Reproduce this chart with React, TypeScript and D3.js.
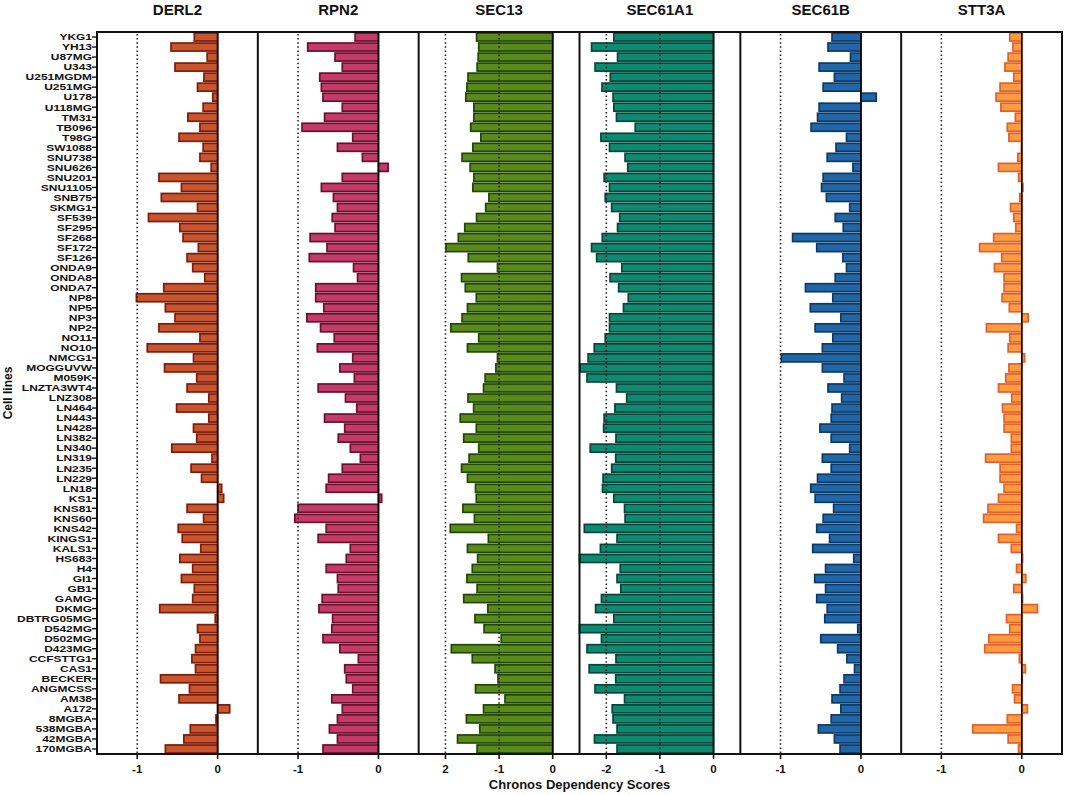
import React from 'react';
import * as d3 from 'd3';

const cellLines = [
  "YKG1","YH13","U87MG","U343","U251MGDM","U251MG","U178","U118MG","TM31","TB096",
  "T98G","SW1088","SNU738","SNU626","SNU201","SNU1105","SNB75","SKMG1","SF539","SF295",
  "SF268","SF172","SF126","ONDA9","ONDA8","ONDA7","NP8","NP5","NP3","NP2",
  "NO11","NO10","NMCG1","MOGGUVW","M059K","LNZTA3WT4","LNZ308","LN464","LN443","LN428",
  "LN382","LN340","LN319","LN235","LN229","LN18","KS1","KNS81","KNS60","KNS42",
  "KINGS1","KALS1","HS683","H4","GI1","GB1","GAMG","DKMG","DBTRG05MG","D542MG",
  "D502MG","D423MG","CCFSTTG1","CAS1","BECKER","ANGMCSS","AM38","A172","8MGBA","538MGBA",
  "42MGBA","170MGBA"
];

const derl2 = [
  -0.29,-0.58,-0.13,-0.53,-0.17,-0.25,-0.06,-0.18,-0.37,-0.22,
  -0.48,-0.18,-0.22,-0.08,-0.73,-0.45,-0.70,-0.25,-0.86,-0.47,
  -0.43,-0.24,-0.38,-0.31,-0.16,-0.67,-1.01,-0.65,-0.53,-0.73,
  -0.22,-0.875,-0.30,-0.66,-0.26,-0.38,-0.11,-0.51,-0.11,-0.30,
  -0.26,-0.57,-0.07,-0.33,-0.20,0.05,0.075,-0.38,-0.175,-0.49,
  -0.44,-0.21,-0.47,-0.31,-0.45,-0.29,-0.31,-0.72,-0.03,-0.25,
  -0.22,-0.275,-0.32,-0.275,-0.71,-0.35,-0.48,0.15,-0.02,-0.34,
  -0.42,-0.65
];

const rpn2 = [
  -0.29,-0.88,-0.54,-0.45,-0.73,-0.71,-0.69,-0.45,-0.67,-0.95,
  -0.32,-0.51,-0.20,0.12,-0.45,-0.71,-0.56,-0.51,-0.575,-0.54,
  -0.85,-0.64,-0.86,-0.31,-0.26,-0.78,-0.78,-0.68,-0.89,-0.72,
  -0.55,-0.76,-0.32,-0.48,-0.30,-0.75,-0.41,-0.27,-0.67,-0.42,
  -0.50,-0.35,-0.225,-0.45,-0.62,-0.65,0.04,-1.00,-1.04,-0.65,
  -0.75,-0.35,-0.40,-0.65,-0.51,-0.50,-0.70,-0.74,-0.57,-0.58,
  -0.69,-0.48,-0.25,-0.42,-0.40,-0.32,-0.58,-0.45,-0.51,-0.61,
  -0.51,-0.69
];

const sec13 = [
  -1.42,-1.38,-1.39,-1.41,-1.58,-1.60,-1.62,-1.47,-1.47,-1.53,
  -1.34,-1.49,-1.69,-1.54,-1.47,-1.49,-1.19,-1.25,-1.42,-1.64,
  -1.76,-1.99,-1.575,-1.03,-1.70,-1.63,-1.425,-1.59,-1.69,-1.90,
  -1.38,-1.59,-1.03,-1.06,-1.26,-1.29,-1.58,-1.475,-1.725,-1.425,
  -1.66,-1.38,-1.56,-1.70,-1.59,-1.44,-1.425,-1.675,-1.46,-1.91,
  -1.20,-1.59,-1.40,-1.50,-1.60,-1.41,-1.66,-1.21,-1.45,-1.28,
  -0.96,-1.89,-1.50,-1.075,-1.02,-1.44,-0.89,-1.29,-1.61,-1.36,
  -1.775,-1.41
];

const sec61a1 = [
  -1.86,-2.275,-1.79,-2.21,-1.925,-2.08,-1.875,-1.86,-1.81,-1.46,
  -2.10,-1.94,-1.65,-1.60,-2.04,-1.94,-2.02,-1.90,-1.75,-1.79,
  -2.075,-2.275,-2.18,-1.71,-1.93,-1.77,-1.59,-1.68,-1.94,-1.94,
  -2.02,-2.225,-2.34,-2.49,-2.36,-1.81,-1.62,-1.84,-2.04,-2.05,
  -1.82,-2.30,-1.825,-1.90,-2.06,-2.07,-1.86,-1.66,-1.65,-2.41,
  -1.80,-2.11,-2.55,-1.74,-1.80,-1.73,-2.09,-2.20,-1.86,-2.55,
  -2.09,-2.36,-1.82,-2.32,-1.825,-2.21,-1.66,-1.89,-1.875,-1.80,
  -2.22,-1.80
];

const sec61b = [
  -0.36,-0.41,-0.13,-0.52,-0.33,-0.47,0.19,-0.52,-0.54,-0.62,
  -0.18,-0.31,-0.42,-0.10,-0.47,-0.49,-0.43,-0.14,-0.32,-0.22,
  -0.85,-0.55,-0.225,-0.18,-0.32,-0.69,-0.35,-0.63,-0.25,-0.57,
  -0.35,-0.48,-0.99,-0.48,-0.21,-0.41,-0.24,-0.36,-0.37,-0.51,
  -0.37,-0.14,-0.48,-0.37,-0.54,-0.625,-0.57,-0.34,-0.47,-0.55,
  -0.39,-0.60,-0.09,-0.44,-0.575,-0.44,-0.55,-0.42,-0.45,-0.04,
  -0.50,-0.29,-0.175,-0.08,-0.21,-0.26,-0.36,-0.25,-0.37,-0.53,
  -0.33,-0.26
];

const stt3a = [
  -0.15,-0.11,-0.17,-0.21,-0.10,-0.27,-0.32,-0.26,-0.08,-0.18,
  -0.16,-0.005,-0.05,-0.29,-0.04,0.015,-0.025,-0.14,-0.10,-0.075,
  -0.35,-0.525,-0.25,-0.34,-0.22,-0.22,-0.245,-0.155,0.08,-0.44,
  -0.15,-0.17,0.035,-0.16,-0.20,-0.29,-0.125,-0.24,-0.22,-0.22,
  -0.13,-0.13,-0.45,-0.27,-0.27,-0.22,-0.29,-0.42,-0.475,-0.065,
  -0.29,-0.13,0.01,-0.065,0.05,-0.10,0.01,0.195,-0.19,-0.15,
  -0.41,-0.46,-0.03,0.045,0,-0.115,-0.09,0.07,-0.18,-0.61,
  -0.17,-0.04
];

const genes = ["DERL2", "RPN2", "SEC13", "SEC61A1", "SEC61B", "STT3A"];
const seriesValues = [derl2, rpn2, sec13, sec61a1, sec61b, stt3a];
const domainMins = [-1.5, -1.5, -2.5, -2.5, -1.5, -1.5];
const tickValues = [[-1, 0], [-1, 0], [-2, -1, 0], [-2, -1, 0], [-1, 0], [-1, 0]];
const tickLabels = [["-1", "0"], ["-1", "0"], ["2", "-1", "0"], ["-2", "-1", "0"], ["-1", "0"], ["-1", "0"]];
const refLines = [[-1], [-1], [-2, -1], [-2, -1], [-1], [-1]];

const fills = ["#c7552d", "#c33b68", "#5b8a1b", "#0e8a70", "#2166a6", "#fd9b41"];
const strokes = ["#7e1c0a", "#6b0f2d", "#1f4806", "#06463a", "#0c3a66", "#e0602c"];

const W = 1065;
const H = 795;
const plotLeft = 97;
const plotRight = 1062;
const plotTop = 32;
const plotBottom = 754;
const FONT = "Arial, 'Liberation Sans', Helvetica, sans-serif";

export default function App() {
  const pw = (plotRight - plotLeft) / genes.length;
  const y = d3.scaleBand<string>().domain(cellLines).range([plotTop, plotBottom]).paddingInner(0.2).paddingOuter(0.1);
  const bh = y.bandwidth();

  const panels = genes.map((g, i) => {
    const x0 = plotLeft + i * pw;
    const x = d3.scaleLinear().domain([domainMins[i], 0.5]).range([x0, x0 + pw]).clamp(true);
    return { g, i, x0, x };
  });

  return (
    <svg width={W} height={H} style={{ position: 'absolute', left: 0, top: 0, background: '#fff' }} fontFamily={FONT}>
      <rect x={0} y={0} width={W} height={H} fill="#fff" />
      {panels.map(({ g, i, x0, x }) => (
        <g key={g}>
          <text x={x0 + pw / 2} y={15} textAnchor="middle" fontSize={15} fontWeight="bold" fill="#111">{g}</text>
          {seriesValues[i].map((v, j) => {
            const a = x(Math.min(0, v));
            const b = x(Math.max(0, v));
            return (
              <rect key={j} x={a} y={y(cellLines[j])} width={Math.max(0.5, b - a)} height={bh}
                fill={fills[i]} stroke={strokes[i]} strokeWidth={1.7} />
            );
          })}
          {refLines[i].map((r) => (
            <line key={r} x1={x(r)} x2={x(r)} y1={plotTop + 2} y2={plotBottom} stroke="#222" strokeWidth={1.6} strokeDasharray="1.5 2.6" />
          ))}
          <line x1={x(0)} x2={x(0)} y1={plotTop} y2={plotBottom} stroke="#000" strokeWidth={1.6} />
          <line x1={x0} x2={x0} y1={plotTop} y2={plotBottom} stroke="#111" strokeWidth={2} />
          {tickValues[i].map((t, k) => (
            <g key={t}>
              <line x1={x(t)} x2={x(t)} y1={plotBottom} y2={plotBottom + 5} stroke="#111" strokeWidth={1.6} />
              <text x={x(t)} y={773} textAnchor="middle" fontSize={11.5} fontWeight="bold" fill="#111">{tickLabels[i][k]}</text>
            </g>
          ))}
        </g>
      ))}
      <line x1={plotRight} x2={plotRight} y1={plotTop} y2={plotBottom} stroke="#111" strokeWidth={2} />
      <line x1={plotLeft - 1} x2={plotRight + 1} y1={plotTop} y2={plotTop} stroke="#111" strokeWidth={2} />
      <line x1={plotLeft - 1} x2={plotRight + 1} y1={plotBottom} y2={plotBottom} stroke="#111" strokeWidth={2} />
      {cellLines.map((c) => {
        const cy = (y(c) as number) + bh / 2;
        return (
          <g key={c}>
            <line x1={plotLeft - 5} x2={plotLeft} y1={cy} y2={cy} stroke="#111" strokeWidth={1.4} />
            <text transform={`translate(${plotLeft - 5}, ${cy}) scale(1.3, 1)`} dy="0.36em" textAnchor="end"
              fontSize={9.2} fontWeight="bold" fill="#111">{c}</text>
          </g>
        );
      })}
      <text transform={`translate(12, ${(plotTop + plotBottom) / 2}) rotate(-90)`} textAnchor="middle" fontSize={12} fontWeight="bold" fill="#111">Cell lines</text>
      <text x={(plotLeft + plotRight) / 2} y={789} textAnchor="middle" fontSize={13} fontWeight="bold" fill="#111">Chronos Dependency Scores</text>
    </svg>
  );
}
